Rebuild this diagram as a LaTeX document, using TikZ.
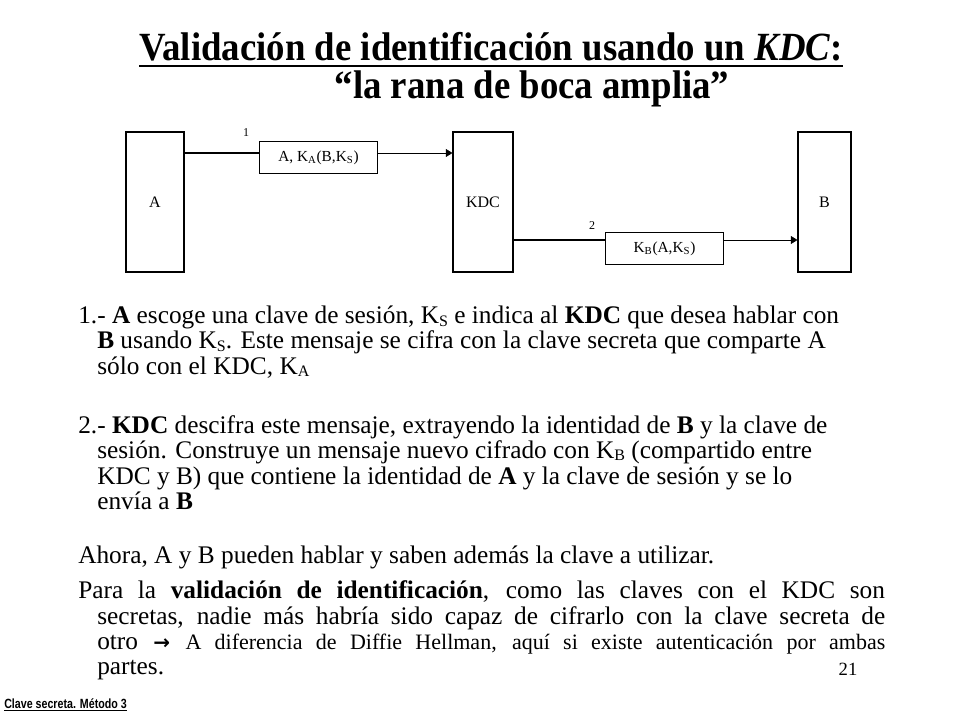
\documentclass[tikz,border=0pt]{standalone}
\usepackage{fontspec}
\setmainfont{Liberation Serif}
\setsansfont{Liberation Sans}
\usetikzlibrary{arrows.meta}
\tikzset{x=0.75pt,y=-0.75pt,
 ent/.style={draw,line width=0.8pt,minimum width=#1*0.75pt,minimum height=105pt,inner sep=0pt,font=\fontsize{12}{14}\selectfont},
 msg/.style={draw,line width=0.8pt,minimum width=89pt,minimum height=24pt,inner sep=0pt,font=\fontsize{11.5}{13}\selectfont},
 conn/.style={line width=1.6pt},
 arr/.style={line width=0.6pt,-{Triangle[length=5pt,width=6pt]}},
 ln/.style={anchor=base west,inner sep=0pt,font=\fontsize{19}{22}\selectfont},
 ttl/.style={anchor=base,inner sep=0pt,font=\bfseries\fontsize{30}{33}\selectfont},
 num/.style={font=\fontsize{9}{11}\selectfont,inner sep=0pt}}
\newcommand{\jl}[2]{\hbox to #1pt{#2}}
\newcommand{\sbs}[1]{\raisebox{-2pt}{\fontsize{12}{14}\selectfont #1}}
\begin{document}
\begin{tikzpicture}
\useasboundingbox (0,0) rectangle (960,720);
\fill[white] (0,0) rectangle (960,720);
% title
\node[ttl] (t1) at (491,61) {\scalebox{0.92}[1]{Validación de identificación usando un \textit{KDC}:}};
\draw[line width=1.3pt] ([yshift=-4pt]t1.base west) -- ([yshift=-4pt]t1.base east);
\node[ttl] (t2) at (532,99) {\scalebox{0.92}[1]{“la rana de boca amplia”}};
% diagram
\node[ent=58] (A) at (155,202) {A};
\node[ent=60] (KDC) at (483,202) {KDC};
\node[ent=53] (B) at (824.5,202) {B};
\node[msg] (m1) at (318.5,157.5) {A, K\textsubscript{A}(B,K\textsubscript{S})};
\node[msg] (m2) at (664.5,248.5) {K\textsubscript{B}(A,K\textsubscript{S})};
\coordinate (p1) at (A.east |- 0,153);
\coordinate (q1) at (KDC.west |- 0,153);
\draw[conn] (p1) -- (m1.west |- p1);
\draw[arr] (m1.east |- p1) -- (q1);
\coordinate (p2) at (KDC.east |- 0,240);
\coordinate (q2) at (B.west |- 0,240);
\draw[conn] (p2) -- (m2.west |- p2);
\draw[arr] (m2.east |- p2) -- (q2);
\node[num] (n1) at (246,133) {1};
\node[num] (n2) at (592,226) {2};
% body
\node[ln] (l1) at (78,324) {1.- \textbf{A} escoge una clave de sesión, K\sbs{S} e indica al \textbf{KDC} que desea hablar con};
\node[ln] (l2) at (97,349) {\textbf{B} usando K\sbs{S}. Este mensaje se cifra con la clave secreta que comparte A};
\node[ln] (l3) at (97,374) {sólo con el KDC, K\sbs{A}};
\node[ln] (l4) at (78,433) {2.- \textbf{KDC} descifra este mensaje, extrayendo la identidad de \textbf{B} y la clave de};
\node[ln] (l5) at (97,458) {sesión. Construye un mensaje nuevo cifrado con K\sbs{B} (compartido entre};
\node[ln] (l6) at (97,484) {KDC y B) que contiene la identidad de \textbf{A} y la clave de sesión y se lo};
\node[ln] (l7) at (97,509) {envía a \textbf{B}};
\node[ln] (l8) at (78,563) {Ahora, A y B pueden hablar y saben además la clave a utilizar.};
\node[ln] (l9) at (78,598) {\jl{605}{Para la \textbf{validación de identificación}, como las claves con el KDC son}};
\node[ln] (l10) at (97,624) {\jl{591}{secretas, nadie más habría sido capaz de cifrarlo con la clave secreta de}};
\node[ln] (l11) at (97,649) {\jl{591}{otro {\fontspec{DejaVu Sans}\fontsize{15}{17}\selectfont\bfseries →} {\fontsize{16.5}{18}\selectfont A diferencia de Diffie Hellman, aquí si existe autenticación por ambas}}};
\node[ln] (l12) at (97,674) {partes.};
\node[anchor=base,inner sep=0pt,font=\fontsize{14}{16}\selectfont] (pg) at (848,675) {21};
\node[anchor=base west,inner sep=0pt,font=\sffamily\bfseries\fontsize{10}{12}\selectfont] (ft) at (4,708) {\scalebox{0.8}[1]{Clave secreta. Método 3}};
\draw[line width=0.6pt] ([yshift=-1.5pt]ft.base west) -- ([yshift=-1.5pt]ft.base east);
\end{tikzpicture}
\end{document}
